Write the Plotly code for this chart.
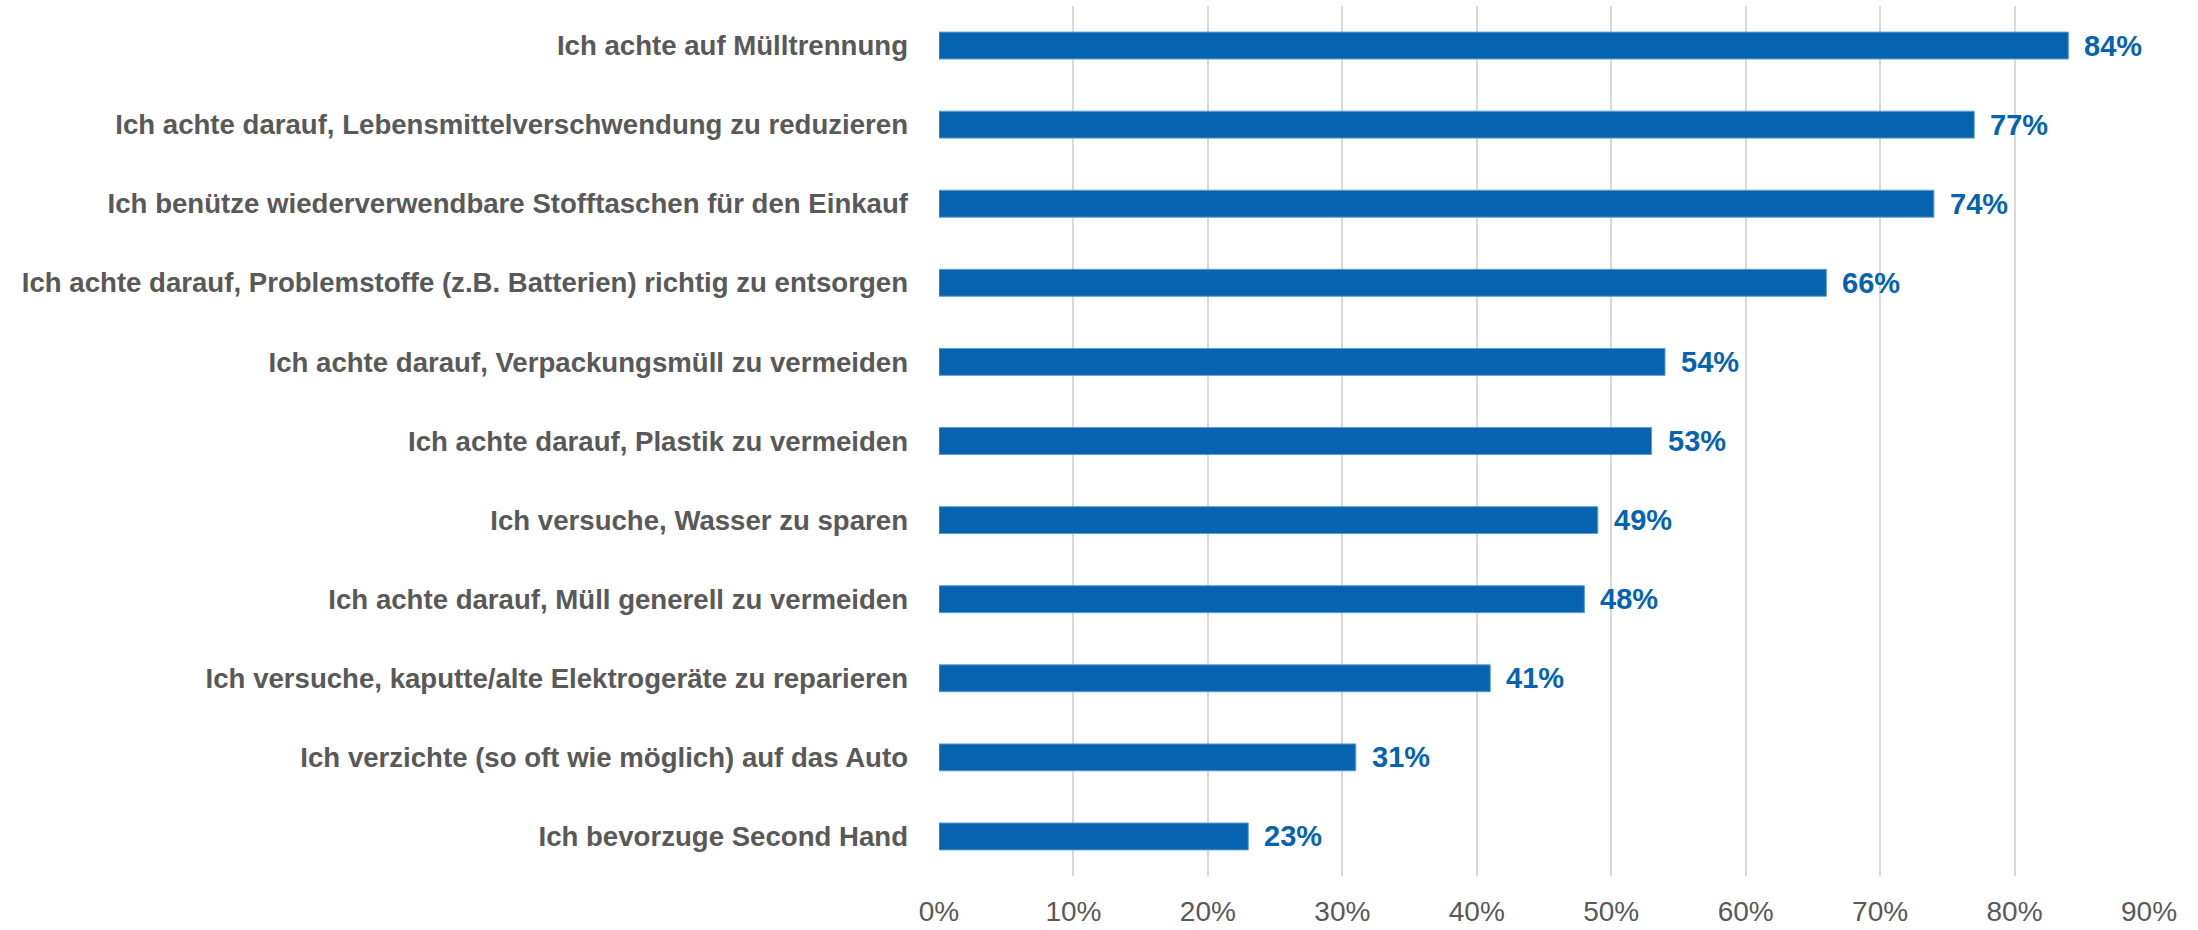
import plotly.graph_objects as go

categories = [
    "Ich achte auf Mülltrennung",
    "Ich achte darauf, Lebensmittelverschwendung zu reduzieren",
    "Ich benütze wiederverwendbare Stofftaschen für den Einkauf",
    "Ich achte darauf, Problemstoffe (z.B. Batterien) richtig zu entsorgen",
    "Ich achte darauf, Verpackungsmüll zu vermeiden",
    "Ich achte darauf, Plastik zu vermeiden",
    "Ich versuche, Wasser zu sparen",
    "Ich achte darauf, Müll generell zu vermeiden",
    "Ich versuche, kaputte/alte Elektrogeräte zu reparieren",
    "Ich verzichte (so oft wie möglich) auf das Auto",
    "Ich bevorzuge Second Hand",
]
values = [84, 77, 74, 66, 54, 53, 49, 48, 41, 31, 23]
tick_vals = [0, 10, 20, 30, 40, 50, 60, 70, 80, 90]
tick_text = [f"{v}%" for v in tick_vals]

BLUE = "#0563B0"
GRAY = "#595959"
FONT = "Liberation Sans Narrow, Arial Narrow, Liberation Sans, sans-serif"

fig = go.Figure()
fig.add_trace(go.Bar(
    x=values, y=categories, orientation="h",
    marker=dict(color=BLUE, line=dict(color="#5B9BD5", width=1)),
    width=0.34, hoverinfo="x+y",
))

for c, v in zip(categories, values):
    fig.add_annotation(x=v, y=c, text=f"<b>{v}%</b>", showarrow=False,
                       xanchor="left", xshift=14,
                       font=dict(family=FONT, size=29, color=BLUE))

fig.update_layout(
    width=2198, height=930,
    margin=dict(l=939, r=49, t=6, b=54),
    plot_bgcolor="white", paper_bgcolor="white",
    showlegend=False,
    font=dict(family=FONT),
    xaxis=dict(range=[0, 90], tickvals=tick_vals, ticktext=tick_text,
               showgrid=True, gridcolor="#D9D9D9", gridwidth=2,
               zeroline=False, showline=False, automargin=False,
               tickfont=dict(family=FONT, size=28, color=GRAY),
               ticklabelstandoff=16, fixedrange=True),
    yaxis=dict(autorange="reversed", showgrid=False, showline=False,
               automargin=False,
               tickfont=dict(family=FONT, size=27.6, color=GRAY),
               ticklabelstandoff=30, fixedrange=True),
)
fig.update_yaxes(tickprefix="<b>", ticksuffix="</b>")

fig.write_html("out.html", config={"displayModeBar": False},
               post_script="document.body.style.margin='0';document.body.style.overflow='hidden';")
